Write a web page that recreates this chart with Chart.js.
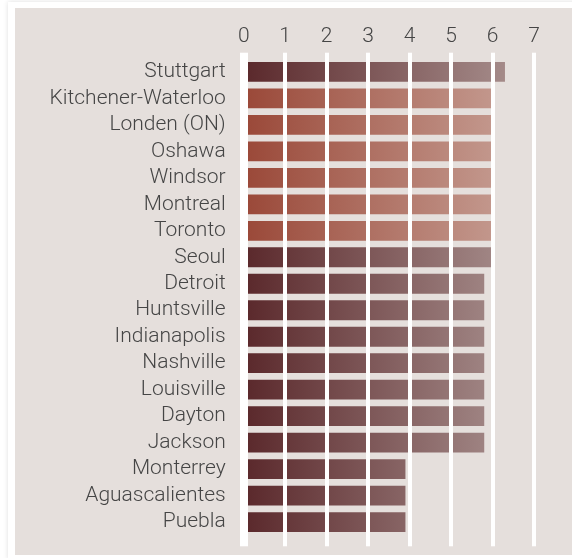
<!DOCTYPE html>
<html>
<head>
<meta charset="utf-8">
<script src="https://cdn.jsdelivr.net/npm/chart.js@4/dist/chart.umd.min.js"></script>
<style>
    html, body { margin: 0; padding: 0; background: #fff; }
    body { width: 572px; height: 558px; overflow: hidden; position: relative; }
    #card {
        position: absolute; left: 8px; top: 2px; width: 600px; height: 558px;
        background: #fff; box-shadow: 0 0 5px rgba(0, 0, 0, 0.13);
    }
    #panel {
        position: absolute; left: 15px; top: 8px; width: 557px; height: 547px;
        background: #e5dfdc;
    }
</style>
</head>
<body>
<div id="card"></div>
<div id="panel"><canvas id="chart" width="557" height="547"></canvas></div>
<script>
const cities = ["Stuttgart", "Kitchener-Waterloo", "Londen (ON)", "Oshawa", "Windsor", "Montreal",
    "Toronto", "Seoul", "Detroit", "Huntsville", "Indianapolis", "Nashville", "Louisville",
    "Dayton", "Jackson", "Monterrey", "Aguascalientes", "Puebla"];
const values = [6.3, 6.0, 6.0, 6.0, 6.0, 6.0, 6.0, 6.0, 5.8, 5.8, 5.8, 5.8, 5.8, 5.8, 5.8, 3.9, 3.9, 3.9];
const groups = ["dark", "red", "red", "red", "red", "red", "red", "dark", "dark", "dark", "dark",
    "dark", "dark", "dark", "dark", "dark", "dark", "dark"];
const axisTicks = [0, 1, 2, 3, 4, 5, 6, 7];

const gradientStops = {
    dark: ["#5a282b", "#ac9593"],
    red: ["#9a4838", "#c9a49a"]
};

const labelFont = { family: "Roboto, 'Open Sans', sans-serif", size: 21, weight: 300 };
const textColor = "#454545";

function barColor(ctx) {
    let area = ctx.chart.chartArea;
    if (!area) {
        return gradientStops[groups[ctx.dataIndex]][0];
    }
    let stops = gradientStops[groups[ctx.dataIndex]];
    let g = ctx.chart.ctx.createLinearGradient(area.left, 0, area.right, 0);
    g.addColorStop(0, stops[0]);
    g.addColorStop(1, stops[1]);
    return g;
}

function gridWidth(ctx) {
    return ctx.tick && ctx.tick.value === 0 ? 8 : 4;
}

new Chart("chart", {
    type: 'bar',
    data: {
        labels: cities,
        datasets: [{
            data: values,
            backgroundColor: barColor,
            borderWidth: 0,
            barPercentage: 0.75,
            categoryPercentage: 1,
            xAxisID: 'x'
        }]
    },
    options: {
        indexAxis: 'y',
        responsive: false,
        animation: false,
        layout: { padding: { top: 13.5, bottom: 8.7, right: 38, left: 0 } },
        plugins: { legend: { display: false }, tooltip: { enabled: false } },
        scales: {
            x: {
                position: 'top',
                min: axisTicks[0],
                max: axisTicks[axisTicks.length - 1],
                afterBuildTicks: (s) => { s.ticks = axisTicks.map(v => ({ value: v })); },
                ticks: { font: labelFont, color: textColor, padding: 3, maxRotation: 0 },
                grid: { color: "#ffffff", lineWidth: gridWidth, tickLength: 6, drawTicks: true, z: 1 },
                border: { display: false }
            },
            x2: {
                position: 'bottom',
                min: axisTicks[0],
                max: axisTicks[axisTicks.length - 1],
                afterBuildTicks: (s) => { s.ticks = axisTicks.map(v => ({ value: v })); },
                afterFit: (s) => { s.height = 11; },
                ticks: { display: false },
                grid: { color: "#ffffff", lineWidth: gridWidth, tickLength: 11, drawTicks: true, drawOnChartArea: false, z: 1 },
                border: { display: false }
            },
            y: {
                afterFit: (s) => { s.width = 228.7; },
                ticks: { font: labelFont, color: textColor, padding: 0, autoSkip: false },
                grid: { display: false, drawTicks: true, tickLength: 18 },
                border: { display: false }
            }
        }
    }
});
</script>
</body>
</html>
